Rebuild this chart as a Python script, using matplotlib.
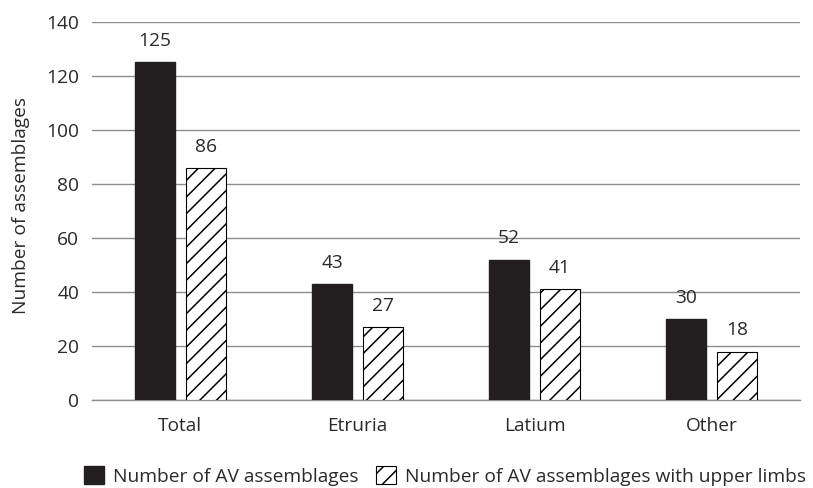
import matplotlib
matplotlib.use("Agg")
import matplotlib.pyplot as plt
import numpy as np

categories = ["Total", "Etruria", "Latium", "Other"]
av_assemblages = [125, 43, 52, 30]
av_upper_limbs = [86, 27, 41, 18]
series_labels = ["Number of AV assemblages", "Number of AV assemblages with upper limbs"]
yticks = [0, 20, 40, 60, 80, 100, 120, 140]

plt.rcParams['font.family'] = ['Open Sans', 'DejaVu Sans']
plt.rcParams['hatch.linewidth'] = 1.1
text_color = "#2a2a2a"
fs = 13.8

fig = plt.figure(figsize=(8.13, 4.88), dpi=100)
ax = fig.add_axes([0.113, 0.180, 0.871, 0.775])

x = np.arange(len(categories))
w = 0.226
off = 0.143
b1 = ax.bar(x - off, av_assemblages, w, color="#231f20", edgecolor="#231f20", label=series_labels[0], zorder=3)
b2 = ax.bar(x + off, av_upper_limbs, w, color="white", edgecolor="black", hatch="//", linewidth=0.8,
            label=series_labels[1], zorder=3)

for bars, vals in ((b1, av_assemblages), (b2, av_upper_limbs)):
    for r, v in zip(bars, vals):
        ax.text(r.get_x() + r.get_width() / 2, v + 6, str(v), ha="center", va="baseline",
                fontsize=fs, color=text_color)

ax.set_xlim(-0.5, len(categories) - 0.5)
ax.set_ylim(0, 140)
ax.set_yticks(yticks)
ax.set_xticks(x)
ax.set_xticklabels(categories)
ax.tick_params(axis="both", length=0, labelsize=fs, labelcolor=text_color)
ax.tick_params(axis="x", pad=12)
ax.tick_params(axis="y", pad=9)
ax.yaxis.grid(True, color="#8c8c8c", linewidth=1.0, zorder=0)
for s in ["top", "right", "left"]:
    ax.spines[s].set_visible(False)
ax.spines["bottom"].set_color("#8c8c8c")
ax.spines["bottom"].set_linewidth(1.0)
ax.set_ylabel("Number of assemblages", fontsize=fs, color=text_color)
ax.yaxis.set_label_coords(-0.088, 0.516)

fig.legend(handles=[b1, b2], labels=series_labels, loc="center", bbox_to_anchor=(0.547, 0.025),
           ncol=2, frameon=False, fontsize=fs, labelcolor=text_color, handlelength=1.05,
           handleheight=1.05, handletextpad=0.48, columnspacing=0.9, borderpad=0)

fig.savefig("out.png", dpi=100)
